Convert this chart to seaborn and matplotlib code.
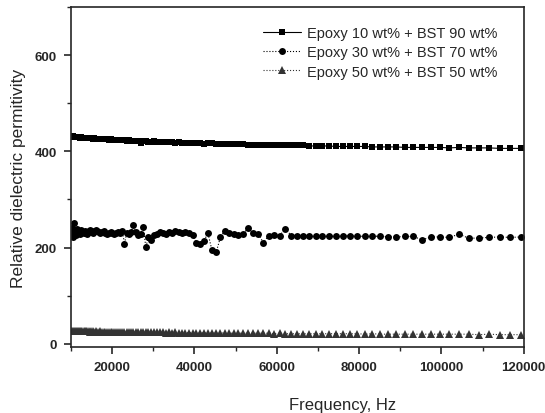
import numpy as np
import pandas as pd
import seaborn as sns
import matplotlib.pyplot as plt
from matplotlib.ticker import MultipleLocator

# frequency sweep, Hz
freq = [10000, 10228, 10461, 10700, 10944, 11193, 11448, 11709, 11976, 12249, 12529,
        12815, 13107, 13406, 13711, 14024, 14344, 14671, 15005, 15347, 15697,
        16055, 16421, 16795, 17178, 17570, 17971, 18381, 18800, 19229, 19667,
        20115, 20574, 21043, 21523, 22014, 22516, 23029, 23554, 24091, 24640,
        25202, 25777, 26365, 26966, 27580, 28209, 28852, 29510, 30183, 30871,
        31575, 32295, 33031, 33784, 34555, 35343, 36149, 36973, 37816, 38678,
        39560, 40462, 41384, 42328, 43293, 44280, 45290, 46322, 47378, 48458,
        49563, 50693, 51849, 53031, 54240, 55477, 56742, 58036, 59359, 60712,
        62096, 63512, 64960, 66441, 67956, 69505, 71090, 72711, 74369, 76064,
        77798, 79572, 81386, 83242, 85140, 87081, 89066, 91097, 93174, 95298,
        97471, 99693, 101966, 104291, 106669, 109101, 111588, 114132, 116734, 119397]

# Epoxy 10 wt% + BST 90 wt%
eps_10 = [431, 430, 431, 430, 430, 429, 430, 429, 429, 428, 429,
          428, 428, 428, 427, 428, 427, 427, 427, 426, 427,
          426, 426, 426, 425, 426, 425, 425, 425, 424, 425,
          424, 424, 424, 423, 424, 423, 423, 422, 423, 422,
          422, 422, 421, 418, 422, 421, 420, 420, 421, 420,
          420, 419, 420, 419, 419, 418, 419, 418, 418, 418,
          417, 418, 417, 416, 418, 417, 416, 416, 416, 415,
          415, 415, 415, 414, 414, 414, 413, 413, 413, 413,
          413, 412, 412, 412, 411, 411, 411, 411, 410, 410,
          410, 410, 410, 409, 409, 409, 409, 408, 408, 408,
          408, 408, 407, 408, 407, 407, 407, 406, 406, 406]

# Epoxy 30 wt% + BST 70 wt%
eps_30 = [228, 240, 222, 252, 236, 226, 238, 230, 234, 228, 236,
          232, 230, 235, 233, 229, 234, 236, 232, 230, 234,
          237, 235, 232, 230, 233, 234, 231, 229, 231, 233,
          230, 228, 231, 233, 230, 234, 208, 230, 228, 233,
          246, 232, 226, 229, 243, 201, 222, 216, 226, 229,
          233, 231, 229, 232, 230, 234, 233, 230, 233, 231,
          226, 210, 208, 214, 230, 194, 190, 221, 235, 231,
          228, 227, 228, 241, 230, 229, 210, 225, 226, 225,
          239, 225, 225, 224, 224, 223, 224, 223, 224, 225,
          225, 224, 223, 223, 224, 222, 222, 223, 223, 216,
          222, 222, 221, 228, 219, 220, 221, 222, 221, 222]

# Epoxy 50 wt% + BST 50 wt%
eps_50 = [27, 26, 27, 26, 27, 26, 26, 27, 26, 26, 26,
          26, 26, 26, 26, 26, 26, 25, 26, 26, 25,
          26, 25, 25, 26, 25, 25, 25, 25, 25, 25,
          25, 25, 25, 25, 25, 24, 25, 25, 24, 25,
          24, 24, 24, 24, 24, 24, 24, 24, 24, 24,
          24, 24, 23, 24, 23, 24, 23, 23, 23, 23,
          23, 23, 23, 23, 23, 23, 22, 23, 22, 22,
          22, 22, 22, 22, 22, 22, 22, 22, 21, 22,
          21, 21, 21, 21, 21, 21, 21, 21, 21, 21,
          21, 21, 20, 21, 20, 20, 20, 20, 20, 20,
          20, 20, 20, 20, 20, 19, 20, 19, 19, 19]

labels = ['Epoxy 10 wt% + BST 90 wt%',
          'Epoxy 30 wt% + BST 70 wt%',
          'Epoxy 50 wt% + BST 50 wt%']

sns.set_style('ticks')
plt.rcParams['font.family'] = ['Liberation Sans', 'DejaVu Sans']

fig = plt.figure(figsize=(5.45, 4.14), dpi=100)
ax = fig.add_axes([0.130, 0.159, 0.831, 0.822])

sns.lineplot(x=freq, y=eps_10, ax=ax, color='black', marker='s', markersize=4.4,
             markeredgewidth=0, linestyle='-', linewidth=0.8, label=labels[0], errorbar=None)
sns.lineplot(x=freq, y=eps_30, ax=ax, color='black', marker='o', markersize=5.0,
             markeredgewidth=0, linestyle=':', linewidth=0.8, label=labels[1], errorbar=None)
sns.lineplot(x=freq, y=eps_50, ax=ax, color='#333333', marker='^', markersize=5.6,
             markeredgewidth=0, linestyle=':', linewidth=0.8, label=labels[2], errorbar=None)

ax.set_xlim(10000, 120000)
ax.set_ylim(-7, 700)
ax.xaxis.set_major_locator(MultipleLocator(20000))
ax.xaxis.set_minor_locator(MultipleLocator(10000))
ax.yaxis.set_major_locator(MultipleLocator(200))
ax.yaxis.set_minor_locator(MultipleLocator(100))
ax.tick_params(which='major', direction='out', length=5, width=1.2, labelsize=9.5, pad=5)
ax.tick_params(which='minor', direction='out', length=3, width=1.0)
for lbl in ax.get_xticklabels() + ax.get_yticklabels():
    lbl.set_fontweight('bold')
for sp in ax.spines.values():
    sp.set_linewidth(1.2)
    sp.set_visible(True)

ax.set_xlabel('Frequency, Hz', fontsize=12)
ax.xaxis.set_label_coords(0.60, -0.145)
ax.set_ylabel('Relative dielectric permitivity', fontsize=12.5, labelpad=6)

ax.legend(loc='upper right', bbox_to_anchor=(0.955, 0.96), borderaxespad=0,
          frameon=False, fontsize=10.5, handlelength=2.6, handletextpad=0.4,
          labelspacing=0.35, numpoints=1)

fig.savefig('out.png', dpi=100)
